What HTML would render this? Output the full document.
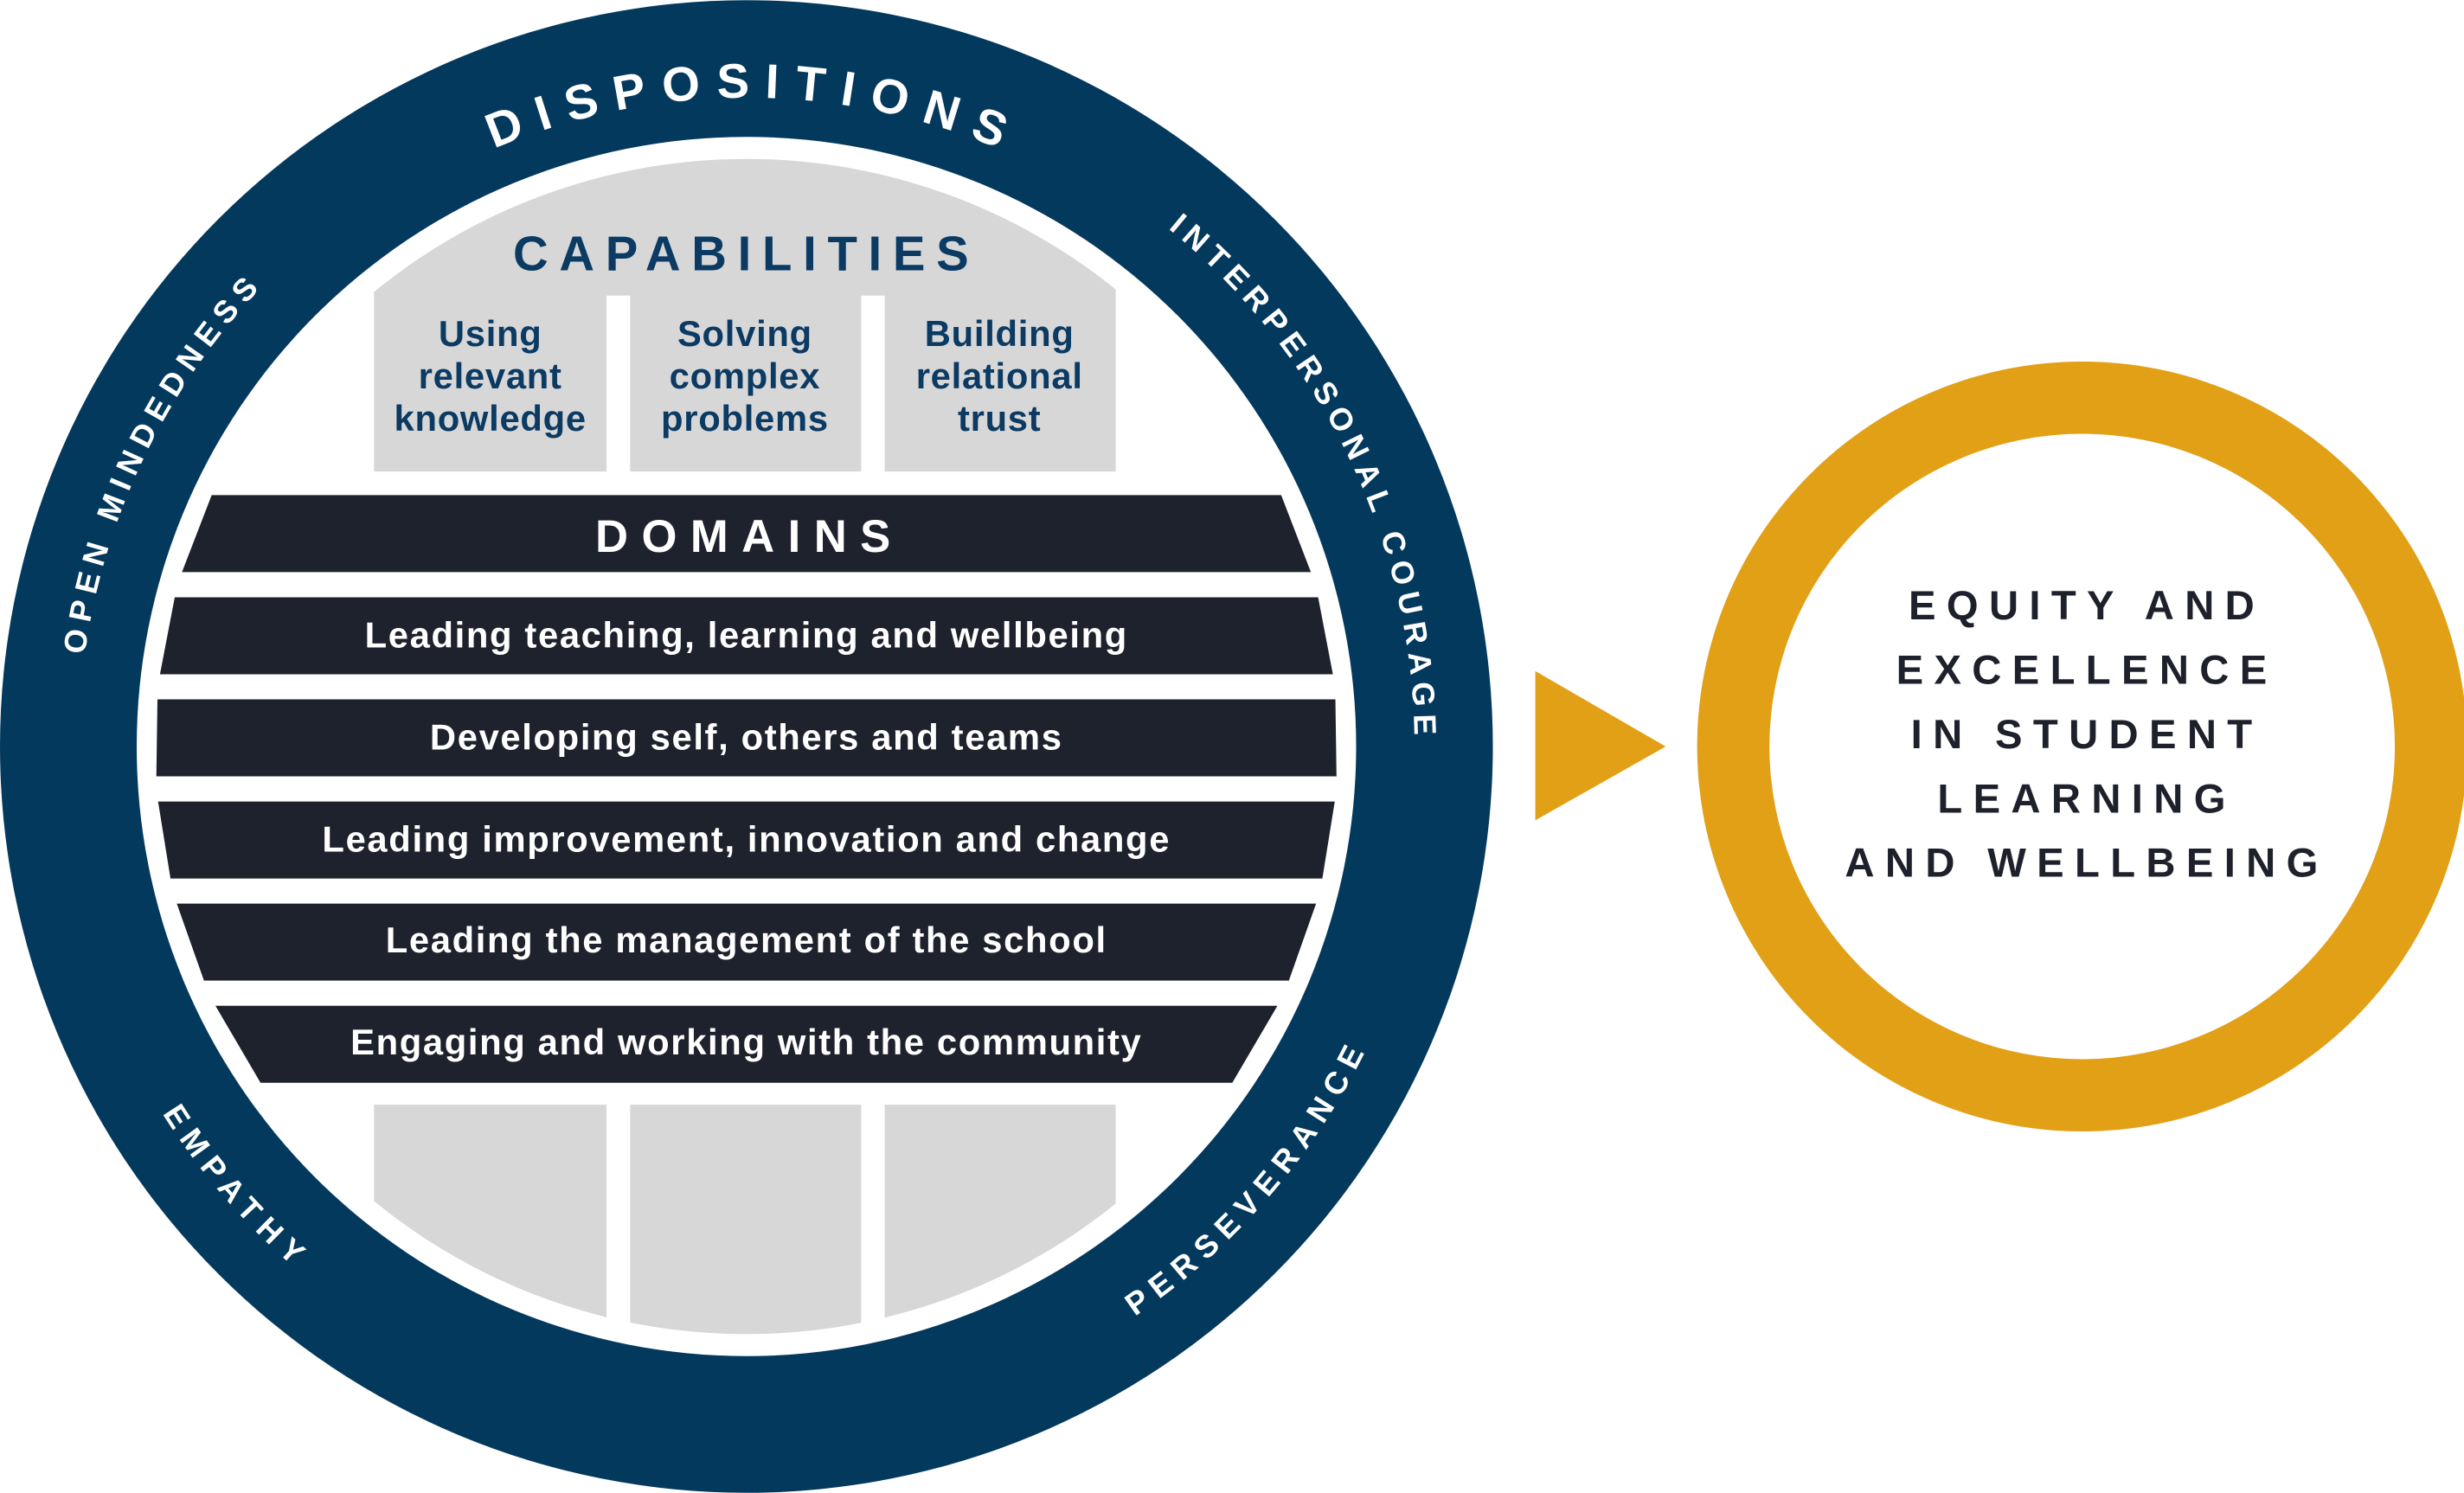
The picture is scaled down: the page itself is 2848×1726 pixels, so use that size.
<!DOCTYPE html>
<html><head><meta charset="utf-8"><style>
html,body{margin:0;padding:0;background:#fff;width:2848px;height:1726px;overflow:hidden}
svg{display:block}
text{font-family:"Liberation Sans",sans-serif}
</style></head><body>
<svg width="2848" height="1726" viewBox="0 0 1568 950" xmlns="http://www.w3.org/2000/svg">
<defs>
<clipPath id="c374"><circle cx="475" cy="475" r="374"/></clipPath>
<path id="pTop30" d="M475,888 A413,413 0 1 1 475,62 A413,413 0 1 1 475,888"/>
<path id="pTop20" d="M475,900 A425,425 0 1 1 475,50 A425,425 0 1 1 475,900"/>
<path id="pBot20" d="M475,36 A439,439 0 1 0 475,914 A439,439 0 1 0 475,36"/>
</defs>
<circle cx="475" cy="475" r="475" fill="#04395e"/>
<circle cx="475" cy="475" r="388" fill="#fff"/>
<g clip-path="url(#c374)" fill="#d8d7d8">
<rect x="238" y="90" width="472" height="210"/>
<rect x="238" y="703" width="148" height="160"/>
<rect x="401" y="703" width="147" height="160"/>
<rect x="563" y="703" width="147" height="160"/>
</g>
<rect x="386" y="188" width="15" height="115" fill="#fff"/>
<rect x="548" y="188" width="15" height="115" fill="#fff"/>
<g fill="#1e222d">
<polygon points="134.7,315 815.3,315 834.2,364 115.8,364"/>
<polygon points="111.2,380 838.8,380 848.2,429 101.8,429"/>
<polygon points="100.2,445 849.8,445 850.5,494 99.5,494"/>
<polygon points="100.6,510 849.4,510 841.5,559 108.5,559"/>
<polygon points="112.5,575 837.5,575 820.2,624 129.8,624"/>
<polygon points="137.1,640 812.9,640 784.2,689 165.8,689"/>
</g>
<g fill="#0b3a63" font-weight="bold" text-anchor="middle">
<text x="475" y="172" font-size="31" letter-spacing="7">CAPABILITIES</text>
<g font-size="23" letter-spacing="0.4">
<text x="312" y="220">Using</text><text x="312" y="247">relevant</text><text x="312" y="274">knowledge</text>
<text x="474" y="220">Solving</text><text x="474" y="247">complex</text><text x="474" y="274">problems</text>
<text x="636" y="220">Building</text><text x="636" y="247">relational</text><text x="636" y="274">trust</text>
</g></g>
<g fill="#fff" font-weight="bold" text-anchor="middle" font-size="23" letter-spacing="0.9">
<text x="477" y="351" font-size="29" letter-spacing="8.5">DOMAINS</text>
<text x="475" y="412">Leading teaching, learning and wellbeing</text>
<text x="475" y="477">Developing self, others and teams</text>
<text x="475" y="542">Leading improvement, innovation and change</text>
<text x="475" y="606">Leading the management of the school</text>
<text x="475" y="671">Engaging and working with the community</text>
</g>
<g fill="#fff" font-weight="bold" text-anchor="middle">
<text font-size="31"><textPath href="#pTop30" startOffset="50%" textLength="330" lengthAdjust="spacing">DISPOSITIONS</textPath></text>
<text font-size="20"><textPath href="#pTop20" startOffset="32.1%" textLength="262" lengthAdjust="spacing">OPEN MINDEDNESS</textPath></text>
<text font-size="20"><textPath href="#pTop20" startOffset="67.8%" textLength="370" lengthAdjust="spacing">INTERPERSONAL COURAGE</textPath></text>
<text font-size="20"><textPath href="#pBot20" startOffset="36.25%" textLength="128" lengthAdjust="spacing">EMPATHY</textPath></text>
<text font-size="20"><textPath href="#pBot20" startOffset="63.6%" textLength="225" lengthAdjust="spacing">PERSEVERANCE</textPath></text>
</g>
<polygon points="977,427 1060,475 977,522" fill="#e2a017"/>
<circle cx="1325" cy="475" r="245" fill="#e2a017"/>
<circle cx="1325" cy="475" r="199" fill="#fff"/>
<g fill="#1e212b" font-size="26" text-anchor="middle" letter-spacing="6.8" font-weight="bold">
<text x="1328" y="394">EQUITY AND</text>
<text x="1328" y="435">EXCELLENCE</text>
<text x="1328" y="476">IN STUDENT</text>
<text x="1328" y="517">LEARNING</text>
<text x="1328" y="558">AND WELLBEING</text>
</g>
</svg>
</body></html>
